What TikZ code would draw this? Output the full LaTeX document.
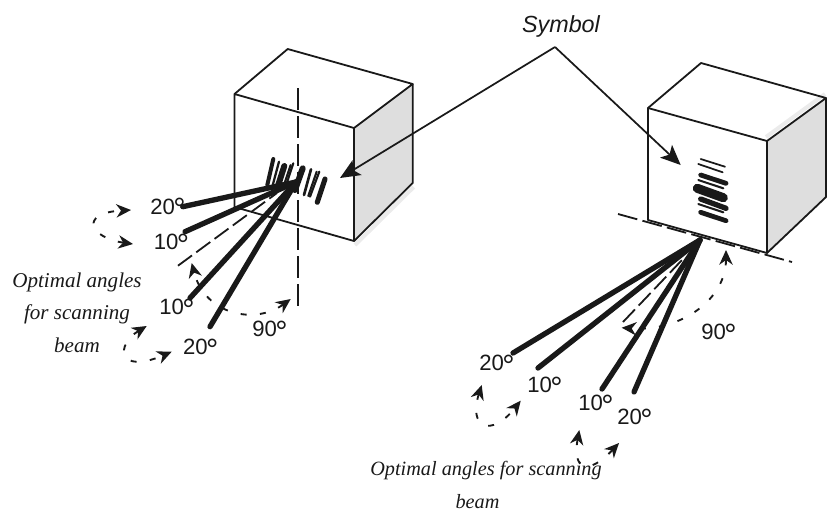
\documentclass[tikz,border=0pt]{standalone}
\usepackage{fontspec}
\setmainfont{Liberation Sans}
\newfontfamily\notefont{Liberation Serif}
\newcommand{\degsign}{\kern-1.3pt\smash{\raisebox{-4.2pt}{\fontsize{23}{23}\selectfont °}}\kern-1.5pt}
\usetikzlibrary{arrows.meta}

\begin{document}
\begin{tikzpicture}[
    x=0.75pt, y=-0.75pt,
    edge/.style={line width=1.35pt, black!90},
    face/.style={fill=black!13, draw=none},
    rim/.style={line width=3pt, black!8},
    axis/.style={line width=1.35pt, black!90, dash pattern=on 16.5pt off 4.5pt},
    beam/.style={line width=4pt, black!90, line cap=round},
    leader/.style={-{Stealth[length=15pt, width=13pt, inset=3.5pt]}, line width=1.3pt, black!90},
    swing/.style={{Stealth[length=11pt, width=10pt, inset=3.5pt]}-{Stealth[length=11pt, width=10pt, inset=3.5pt]}, line width=1.4pt, black!90, dash pattern=on 4.5pt off 10pt},
    bar/.style={black!90, line cap=round},
    angle/.style={font=\fontsize{16.6}{18}\selectfont, text=black!90, inner sep=0pt},
    note/.style={font=\notefont\itshape\fontsize{15.8}{24.5}\selectfont, text=black!90, inner sep=0pt, align=center}
]
    \useasboundingbox (0,0) rectangle (827,512);

    % Left box
    \coordinate (lftl) at (234.5,94);
    \coordinate (lftr) at (354,128);
    \coordinate (lfbr) at (354,241);
    \coordinate (lfbl) at (234.5,207);
    \coordinate (lbtl) at (287.7,49);
    \coordinate (lbtr) at (412.7,84);
    \coordinate (lbbr) at (412.7,183);

    \fill[face] (lftr) -- (lbtr) -- (lbbr) -- (lfbr) -- cycle;
    \draw[rim] ([shift={(1,4)}]lfbr) -- ([shift={(1,4)}]lbbr);
    \draw[edge, line join=round] (lfbl) -- (lftl) -- (lftr) -- (lfbr) -- cycle;
    \draw[edge, line join=round] (lftl) -- (lbtl) -- (lbtr) -- (lftr);
    \draw[edge, line join=round] (lbtr) -- (lbbr) -- (lfbr);

    % Left symbol
    \draw[bar, line width=3pt] (273.3,159) -- (267.3,185);
    \draw[bar, line width=1.7pt] (279,161.7) -- (272.3,186.7);
    \draw[bar, line width=4.5pt] (284.3,166) -- (277.7,186.7);
    \draw[bar, line width=1.6pt] (290.7,165) -- (284,185);
    \draw[bar, line width=1.6pt] (293.3,163.3) -- (286.7,183.3);
    \draw[bar, line width=4.5pt] (302.7,168.3) -- (295,190);
    \draw[bar, line width=2pt] (311,169.3) -- (304,195);
    \draw[bar, line width=1.6pt] (316.7,171.7) -- (308.3,196);
    \draw[bar, line width=1.6pt] (319.3,171.7) -- (310,196.7);
    \draw[bar, line width=3.8pt] (325,179) -- (317.3,202.3);

    % Left beams
    \coordinate (lapex) at (296,182);
    \coordinate (ltop) at (182.7,206.7);
    \coordinate (lmid) at (185,231.7);
    \coordinate (llow) at (190,298);
    \coordinate (lbot) at (210,326.7);
    \coordinate (lopt) at (178,265.7);
    \coordinate (lopu) at (277,193);
    \coordinate (lvup) at (297.7,88);
    \coordinate (lvdn) at (297.7,308);

    \draw[axis] (lvup) -- (lvdn);
    \draw[axis, dash pattern=on 13pt off 4pt] (lopt) -- (lopu);
    \draw[beam] (ltop) -- (lapex);
    \draw[beam] (lmid) -- (lapex);
    \draw[beam] (llow) -- (lapex);
    \draw[beam] (lbot) -- (lapex);

    \node[angle] (la) at (167,206.5) {20\degsign};
    \node[angle] (lb) at (170.5,242) {10\degsign};
    \node[angle] (lc) at (176,307) {10\degsign};
    \node[angle] (ld) at (199.7,347) {20\degsign};
    \node[angle] (le) at (269,329) {90\degsign};

    % Left swings
    \coordinate (lsa) at (133,244);
    \coordinate (lsb) at (131,210);
    \coordinate (lsc) at (146.7,326);
    \coordinate (lsd) at (171.7,351.7);
    \coordinate (lse) at (290.7,299);
    \coordinate (lsf) at (191.7,263);
    \draw[swing] (lsa) .. controls (90,238) and (78,213) .. (lsb);
    \draw[swing] (lsc) .. controls (115,345) and (117.5,375) .. (lsd);
    \draw[swing] (lse) .. controls (255,325) and (205,315) .. (lsf);

    \node[note] (lnote) at (77,312.5) {Optimal angles\\for scanning\\beam};

    % Right box
    \coordinate (rftl) at (648,108);
    \coordinate (rftr) at (767,141);
    \coordinate (rfbr) at (767,253);
    \coordinate (rfbl) at (648,220);
    \coordinate (rbtl) at (701,63);
    \coordinate (rbtr) at (826,98);
    \coordinate (rbbr) at (826,197);

    \fill[face] (rftr) -- (rbtr) -- (rbbr) -- (rfbr) -- cycle;
    \draw[rim] ([shift={(-1,-4)}]rftr) -- ([shift={(-1,-4)}]rbtr);
    \draw[edge, line join=round] (rfbl) -- (rftl) -- (rftr) -- (rfbr) -- cycle;
    \draw[edge, line join=round] (rftl) -- (rbtl) -- (rbtr) -- (rftr);
    \draw[edge, line join=round] (rbtr) -- (rbbr) -- (rfbr);

    % Right symbol
    \draw[bar, line width=1.3pt] (700.7,159) -- (725,166.7);
    \draw[bar, line width=1.3pt] (698.3,164) -- (722.7,172.3);
    \draw[bar, line width=3.6pt] (700.7,175) -- (726,183.3);
    \draw[bar, line width=1.5pt] (698.3,180) -- (723.3,188.3);
    \draw[bar, line width=6.8pt] (697.3,188.3) -- (723.3,197.7);
    \draw[bar, line width=4pt] (700.7,199) -- (726,208.3);
    \draw[bar, line width=1.5pt] (698.3,204) -- (723.3,212.3);
    \draw[bar, line width=3.6pt] (700.7,212.3) -- (726,220.7);

    % Right beams
    \coordinate (rapex) at (700,240);
    \coordinate (rtop) at (513,353);
    \coordinate (rmid) at (538,368);
    \coordinate (rlow) at (602,389);
    \coordinate (rbot) at (634,392);
    \coordinate (ropt) at (623,322);
    \coordinate (ropu) at (682,260);
    \coordinate (rhlf) at (618,214);
    \coordinate (rhrt) at (792,262);

    \draw[axis, dash pattern=on 15pt off 4pt] (rhlf) -- (rhrt);
    \draw[axis, dash pattern=on 13pt off 4pt] (ropt) -- (ropu);
    \draw[beam] (rtop) -- (rapex);
    \draw[beam] (rmid) -- (rapex);
    \draw[beam] (rlow) -- (rapex);
    \draw[beam] (rbot) -- (rapex);

    \node[angle] (ra) at (496,363) {20\degsign};
    \node[angle] (rb) at (544,385) {10\degsign};
    \node[angle] (rc) at (595,403) {10\degsign};
    \node[angle] (rd) at (634,417) {20\degsign};
    \node[angle] (re) at (718,332) {90\degsign};

    % Right swings
    \coordinate (rsa) at (481.7,385);
    \coordinate (rsb) at (520.7,400.7);
    \coordinate (rsc) at (579.3,430);
    \coordinate (rsd) at (619,443);
    \coordinate (rse) at (726,250);
    \coordinate (rsf) at (621.7,327.7);
    \draw[swing] (rsa) .. controls (468,428) and (491,438) .. (rsb);
    \draw[swing] (rsc) .. controls (572,470) and (588,476) .. (rsd);
    \draw[swing] (rse) .. controls (726,300) and (680,332) .. (rsf);

    \node[note, font=\notefont\itshape\fontsize{15.2}{18}\selectfont] (rnote) at (486,471) {Optimal angles for scanning};
    \node[note, font=\notefont\itshape\fontsize{15.2}{18}\selectfont] (rbeam) at (477.5,502) {beam};

    % Symbol label
    \node[font=\itshape\fontsize{17.5}{20}\selectfont, text=black!90, inner sep=0pt] (symbol) at (561,26) {Symbol};
    \coordinate (fork) at (555,47);
    \coordinate (ltip) at (340,178);
    \coordinate (rtip) at (680.7,165);
    \draw[leader] (fork) -- (ltip);
    \draw[leader] (fork) -- (rtip);
\end{tikzpicture}
\end{document}
